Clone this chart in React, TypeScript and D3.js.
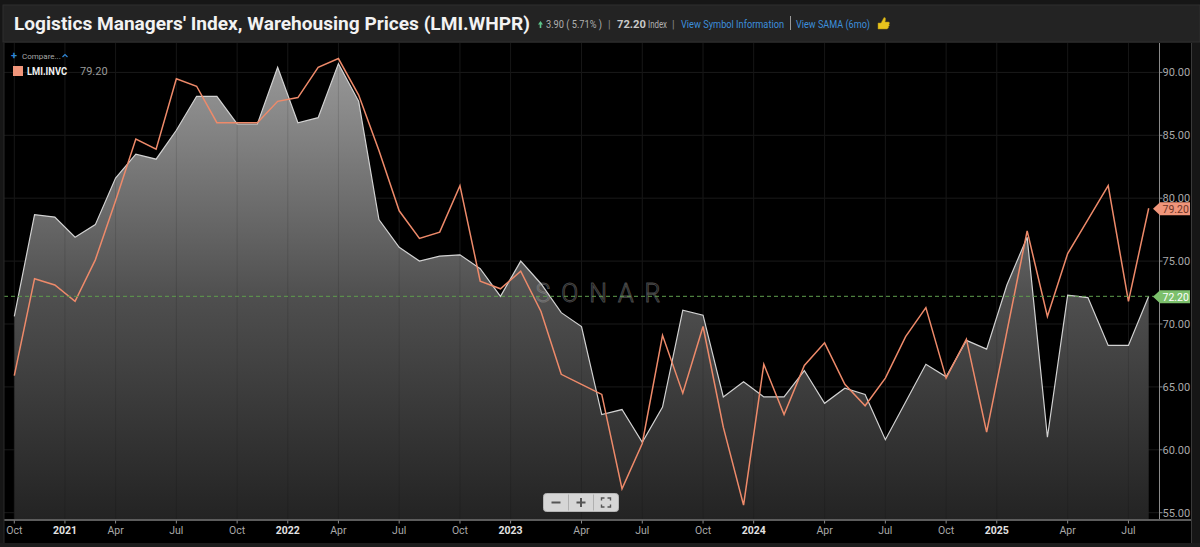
import React, { useEffect, useRef } from 'react';
import * as d3 from 'd3';

// monthly observations (the feed skips one Q1 month in 2021 and 2022)
const dates = [
  '2020-10', '2020-11', '2020-12',
  '2021-01', '2021-03', '2021-04', '2021-05', '2021-06', '2021-07', '2021-08', '2021-09', '2021-10', '2021-11', '2021-12',
  '2022-01', '2022-03', '2022-04', '2022-05', '2022-06', '2022-07', '2022-08', '2022-09', '2022-10', '2022-11', '2022-12',
  '2023-01', '2023-02', '2023-03', '2023-04', '2023-05', '2023-06', '2023-07', '2023-08', '2023-09', '2023-10', '2023-11', '2023-12',
  '2024-01', '2024-02', '2024-03', '2024-04', '2024-05', '2024-06', '2024-07', '2024-08', '2024-09', '2024-10', '2024-11', '2024-12',
  '2025-01', '2025-02', '2025-03', '2025-04', '2025-05', '2025-06', '2025-07', '2025-08',
];

// LMI.WHPR - warehousing prices (grey area)
const whpr = [
  70.6, 78.7, 78.5, 76.9, 77.9, 81.6, 83.5, 83.1, 85.4, 88.1,
  88.1, 85.9, 85.9, 90.4, 86.0, 86.4, 90.7, 87.7, 78.3, 76.1,
  75.0, 75.4, 75.5, 74.4, 72.2, 75.0, 73.2, 70.9, 69.8, 62.8,
  63.2, 60.6, 63.4, 71.1, 70.7, 64.2, 65.4, 64.2, 64.2, 66.3,
  63.7, 64.9, 64.4, 60.8, 63.8, 66.8, 65.8, 68.7, 68.0, 73.1,
  76.9, 61.0, 72.3, 72.1, 68.3, 68.3, 72.2,
];

// LMI.INVC - inventory costs (orange line)
const invc = [
  65.9, 73.6, 73.1, 71.8, 75.1, 79.8, 84.7, 83.9, 89.5, 88.9,
  86.0, 86.0, 86.0, 87.7, 88.0, 90.4, 91.1, 88.2, 83.8, 79.0,
  76.8, 77.3, 81.0, 73.4, 72.8, 74.2, 71.0, 66.0, 65.2, 64.4,
  56.9, 60.5, 69.1, 64.5, 69.8, 61.8, 55.6, 66.8, 62.8, 66.7,
  68.5, 65.2, 63.5, 65.7, 69.0, 71.3, 65.7, 68.8, 61.4, 69.4,
  77.4, 70.6, 75.6, 78.3, 81.0, 71.8, 79.2,
];

const yTicks = [55, 60, 65, 70, 75, 80, 85, 90];
const monthNames = ['', 'Jan', 'Feb', 'Mar', 'Apr', 'May', 'Jun', 'Jul', 'Aug', 'Sep', 'Oct', 'Nov', 'Dec'];

const title = "Logistics Managers' Index, Warehousing Prices (LMI.WHPR)";
const change = '3.90 ( 5.71% )';
const lastValue = '72.20';

const FONT = "Roboto, 'Noto Sans', sans-serif";

const App: React.FC = () => {
  const ref = useRef<SVGSVGElement | null>(null);

  useEffect(() => {
    const W = 1200;
    const H = 547;
    const svg = d3.select(ref.current);
    svg.selectAll('*').remove();
    svg.attr('width', W).attr('height', H).style('font-family', FONT);

    const plot = { left: 4, right: 1159.5, top: 43, bottom: 519.5 };

    // frame
    svg.append('rect').attr('width', W).attr('height', H).attr('fill', '#161616');
    svg.append('rect').attr('x', 3).attr('y', 5).attr('width', W - 3).attr('height', 37)
      .attr('fill', '#232323').attr('stroke', '#2f2f2f');
    svg.append('rect').attr('x', plot.left).attr('y', plot.top).attr('width', 1187).attr('height', 500).attr('fill', '#000');
    svg.append('line').attr('x1', 1191.5).attr('x2', 1191.5).attr('y1', 43).attr('y2', 543).attr('stroke', '#3a3a3a');

    // scales
    const x = d3.scaleLinear().domain([0, dates.length - 1]).range([14.3, 1148.7]);
    const y = d3.scaleLinear().domain([55, 90]).range([512.7, 72.4]);

    // x ticks derived from the dates
    const xTicks: { pos: number; label: string; year: boolean }[] = [];
    dates.forEach((d, i) => {
      const [yr, mo] = d.split('-').map(Number);
      if (mo === 1) xTicks.push({ pos: i - 0.5, label: String(yr), year: true });
      else if (mo === 4 || mo === 7 || mo === 10) xTicks.push({ pos: i, label: monthNames[mo], year: false });
    });

    // grid (under)
    const grid = svg.append('g');
    xTicks.forEach((t) => {
      grid.append('line').attr('x1', x(t.pos)).attr('x2', x(t.pos)).attr('y1', plot.top).attr('y2', plot.bottom)
        .attr('stroke', '#1a1a1a');
    });
    yTicks.forEach((v) => {
      grid.append('line').attr('x1', plot.left).attr('x2', plot.right).attr('y1', y(v)).attr('y2', y(v))
        .attr('stroke', '#1a1a1a');
    });

    // gradient for area
    const defs = svg.append('defs');
    const grad = defs.append('linearGradient').attr('id', 'areaGrad')
      .attr('gradientUnits', 'userSpaceOnUse').attr('x1', 0).attr('x2', 0).attr('y1', plot.top).attr('y2', plot.bottom);
    grad.append('stop').attr('offset', 0).attr('stop-color', '#9c9c9c');
    grad.append('stop').attr('offset', 0.14).attr('stop-color', '#8a8a8a');
    grad.append('stop').attr('offset', 0.54).attr('stop-color', '#4e4e4e');
    grad.append('stop').attr('offset', 1).attr('stop-color', '#232323');

    const area = d3.area<number>().x((_, i) => x(i)).y0(plot.bottom).y1((d) => y(d));
    svg.append('path').datum(whpr).attr('d', area).attr('fill', 'url(#areaGrad)');

    // grid (over fill, subtle)
    const grid2 = svg.append('g');
    xTicks.forEach((t) => {
      grid2.append('line').attr('x1', x(t.pos)).attr('x2', x(t.pos)).attr('y1', plot.top).attr('y2', plot.bottom)
        .attr('stroke', 'rgba(0,0,0,0.12)');
    });

    // watermark
    svg.append('text').attr('x', 598).attr('y', 302).attr('text-anchor', 'middle')
      .attr('font-size', 25).attr('font-weight', 300).attr('textLength', 125).attr('lengthAdjust', 'spacing')
      .attr('fill', 'none').attr('stroke', 'rgba(160,160,160,0.45)').attr('stroke-width', 1).text('SONAR');

    const line = d3.line<number>().x((_, i) => x(i)).y((d) => y(d));
    svg.append('path').datum(whpr).attr('d', line).attr('fill', 'none').attr('stroke', '#d2d2d2').attr('stroke-width', 1.2);
    svg.append('path').datum(invc).attr('d', line).attr('fill', 'none').attr('stroke', '#ee8a6a').attr('stroke-width', 1.5)
      .attr('stroke-linejoin', 'miter');

    // last value dashed line
    const lastW = whpr[whpr.length - 1];
    const lastI = invc[invc.length - 1];
    svg.append('line').attr('x1', plot.left).attr('x2', plot.right).attr('y1', y(lastW)).attr('y2', y(lastW))
      .attr('stroke', '#5f9e4c').attr('stroke-dasharray', '4,3');

    // right axis
    svg.append('line').attr('x1', plot.right).attr('x2', plot.right).attr('y1', plot.top).attr('y2', plot.bottom)
      .attr('stroke', '#8a8a8a');
    const ya = svg.append('g');
    yTicks.forEach((v) => {
      ya.append('line').attr('x1', plot.right).attr('x2', plot.right + 3).attr('y1', y(v)).attr('y2', y(v)).attr('stroke', '#8a8a8a');
      ya.append('text').attr('x', plot.right + 3).attr('y', y(v)).attr('dy', '0.35em').attr('font-size', 11)
        .attr('fill', '#a9a9a9').text(v.toFixed(2));
    });

    const tag = (v: number, fill: string, textFill: string) => {
      const cy = y(v) + 0.5;
      const pts: [number, number][] = [[1153, cy], [1160, cy - 6.5], [1190, cy - 6.5], [1190, cy + 6.5], [1160, cy + 6.5]];
      svg.append('polygon').attr('points', pts.map((p) => p.join(',')).join(' ')).attr('fill', fill);
      svg.append('text').attr('x', 1162.5).attr('y', cy).attr('dy', '0.36em').attr('font-size', 10.5)
        .attr('fill', textFill).text(v.toFixed(2));
    };
    tag(lastI, '#f0957a', '#6d3426');
    tag(lastW, '#7cc06c', '#ffffff');

    // x axis
    svg.append('line').attr('x1', plot.left).attr('x2', 1191).attr('y1', plot.bottom + 0.5).attr('y2', plot.bottom + 0.5)
      .attr('stroke', '#5c5c5c').attr('stroke-width', 2);
    svg.append('line').attr('x1', plot.left).attr('x2', plot.left).attr('y1', plot.top).attr('y2', 543).attr('stroke', '#2a2a2a');
    const xa = svg.append('g');
    xTicks.forEach((t) => {
      xa.append('line').attr('x1', x(t.pos)).attr('x2', x(t.pos)).attr('y1', plot.bottom + 1).attr('y2', plot.bottom + 4)
        .attr('stroke', '#8a8a8a');
      xa.append('text').attr('x', x(t.pos)).attr('y', 534).attr('text-anchor', 'middle').attr('font-size', 10.5)
        .attr('font-weight', t.year ? 700 : 400).attr('fill', t.year ? '#e2e2e2' : '#a9a9a9').text(t.label);
    });
    // label for the first observation's month
    const fm = Number(dates[0].split('-')[1]);
    if (fm !== 1 && fm % 3 !== 1) {
      xa.append('line').attr('x1', x(0)).attr('x2', x(0)).attr('y1', plot.bottom + 1).attr('y2', plot.bottom + 4).attr('stroke', '#8a8a8a');
      xa.append('text').attr('x', x(0)).attr('y', 534).attr('text-anchor', 'middle').attr('font-size', 10.5)
        .attr('fill', '#a9a9a9').text(monthNames[fm]);
    }
    svg.append('rect').attr('x', 0).attr('y', 543).attr('width', W).attr('height', 4).attr('fill', '#1c1c1c');

    // zoom controls
    const zc = svg.append('g').attr('transform', 'translate(543.5,493.5)');
    zc.append('rect').attr('width', 75).attr('height', 18).attr('rx', 3).attr('fill', '#d6d6d6').attr('stroke', '#b5b5b5');
    zc.append('line').attr('x1', 25).attr('x2', 25).attr('y1', 1).attr('y2', 17).attr('stroke', '#b0b0b0');
    zc.append('line').attr('x1', 50).attr('x2', 50).attr('y1', 1).attr('y2', 17).attr('stroke', '#b0b0b0');
    zc.append('line').attr('x1', 8).attr('x2', 17).attr('y1', 9).attr('y2', 9).attr('stroke', '#555').attr('stroke-width', 2);
    zc.append('line').attr('x1', 33).attr('x2', 42).attr('y1', 9).attr('y2', 9).attr('stroke', '#555').attr('stroke-width', 2);
    zc.append('line').attr('x1', 37.5).attr('x2', 37.5).attr('y1', 4.5).attr('y2', 13.5).attr('stroke', '#555').attr('stroke-width', 2);
    zc.append('path')
      .attr('d', 'M58,7V4.5H61 M64,4.5H67V7 M67,11V13.5H64 M61,13.5H58V11')
      .attr('fill', 'none').attr('stroke', '#555').attr('stroke-width', 1.4);

    // header
    svg.append('text').attr('x', 14).attr('y', 29.5).attr('font-size', 18).attr('font-weight', 700).attr('fill', '#f2f2f2')
      .attr('textLength', 516).attr('lengthAdjust', 'spacingAndGlyphs').text(title);
    svg.append('path').attr('d', 'M538,24.5 L540.5,21 L543,24.5 Z M539.7,24.5 V28 H541.3 V24.5').attr('fill', '#5cc48a');
    const hdr = (xp: number, txt: string, fill: string, weight = 400, len?: number) => {
      const t = svg.append('text').attr('x', xp).attr('y', 27.5).attr('font-size', 10.5).attr('font-weight', weight)
        .attr('fill', fill).text(txt);
      if (len) t.attr('textLength', len).attr('lengthAdjust', 'spacingAndGlyphs');
    };
    hdr(546, change, '#b0b0b0', 400, 56);
    hdr(608, '|', '#8a8a8a');
    hdr(617, lastValue, '#c8c8c8', 700, 29);
    hdr(648, 'Index', '#b0b0b0', 400, 19);
    hdr(672, '|', '#8a8a8a');
    hdr(681, 'View Symbol Information', '#3d8fdc', 400, 103);
    svg.append('line').attr('x1', 790.5).attr('x2', 790.5).attr('y1', 16).attr('y2', 30).attr('stroke', '#9a9a9a');
    hdr(796, 'View SAMA (6mo)', '#3d8fdc', 400, 74);
    svg.append('path')
      .attr('d', 'M878,29 V23 H881 L884,17.5 Q886,17 885.5,20 L885,22 H889 Q890,23 889,24.5 Q890,25.5 888.5,26.5 Q889,28 887,29 Z')
      .attr('fill', '#e8c31d').attr('stroke', '#a88a10').attr('stroke-width', 0.5);

    // legend
    svg.append('text').attr('x', 11).attr('y', 59).attr('font-size', 11).attr('font-weight', 700).attr('fill', '#2f86d6').text('+');
    svg.append('text').attr('x', 22).attr('y', 58.5).attr('font-size', 8).attr('fill', '#a8a8a8').text('Compare...');
    svg.append('path').attr('d', 'M62.5,57 L65,54.5 L67.5,57').attr('fill', 'none').attr('stroke', '#2f86d6').attr('stroke-width', 1.2);
    svg.append('rect').attr('x', 13).attr('y', 66).attr('width', 10).attr('height', 10).attr('fill', '#f0957a');
    svg.append('text').attr('x', 27).attr('y', 75).attr('font-size', 10).attr('font-weight', 700).attr('fill', '#f0f0f0')
      .attr('textLength', 40).attr('lengthAdjust', 'spacingAndGlyphs').text('LMI.INVC');
    svg.append('text').attr('x', 80).attr('y', 75).attr('font-size', 11).attr('fill', '#9a9a9a').text(lastI.toFixed(2));
  }, []);

  return <svg ref={ref} style={{ position: 'absolute', left: 0, top: 0, display: 'block' }} />;
};

export default App;
